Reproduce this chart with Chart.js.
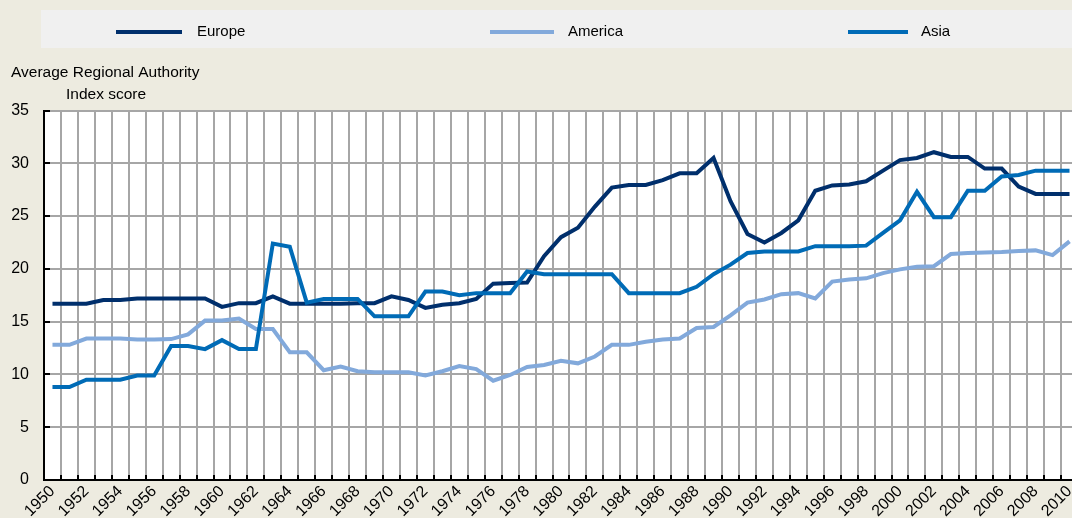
<!DOCTYPE html>
<html lang="en">
<head>
  <meta charset="UTF-8" />
  <title>Regional Authority Index</title>
  <script src="https://cdn.jsdelivr.net/npm/chart.js"></script>
  <style>
    html, body { margin: 0; padding: 0; overflow: hidden; background: #EDEBE0; }
    body { width: 1072px; height: 518px; position: relative; }
    #chart { position: absolute; left: 0; top: 0; }
  </style>
</head>
<body>
  <canvas id="chart" width="1092" height="560"></canvas>

  <script>
    const years = [
      1950, 1951, 1952, 1953, 1954, 1955, 1956, 1957, 1958, 1959,
      1960, 1961, 1962, 1963, 1964, 1965, 1966, 1967, 1968, 1969,
      1970, 1971, 1972, 1973, 1974, 1975, 1976, 1977, 1978, 1979,
      1980, 1981, 1982, 1983, 1984, 1985, 1986, 1987, 1988, 1989,
      1990, 1991, 1992, 1993, 1994, 1995, 1996, 1997, 1998, 1999,
      2000, 2001, 2002, 2003, 2004, 2005, 2006, 2007, 2008, 2009, 2010
    ];

    const europe = [
      16.7, 16.7, 16.7, 17.05, 17.05, 17.2, 17.2, 17.2, 17.2, 17.2,
      16.4, 16.75, 16.75, 17.4, 16.7, 16.7, 16.7, 16.7, 16.75, 16.75,
      17.4, 17.05, 16.3, 16.6, 16.75, 17.15, 18.6, 18.65, 18.7, 21.2,
      23.0, 23.9, 25.9, 27.7, 27.95, 27.95, 28.4, 29.05, 29.05, 30.5,
      26.4, 23.3, 22.5, 23.4, 24.6, 27.4, 27.9, 28.0, 28.3, 29.3,
      30.3, 30.5, 31.05, 30.6, 30.6, 29.5, 29.5, 27.8, 27.1, 27.1, 27.1
    ];

    const america = [
      12.8, 12.8, 13.4, 13.4, 13.4, 13.3, 13.3, 13.35, 13.8, 15.1,
      15.1, 15.3, 14.3, 14.3, 12.1, 12.1, 10.4, 10.75, 10.3, 10.2,
      10.2, 10.2, 9.9, 10.3, 10.8, 10.5, 9.4, 9.95, 10.7, 10.9,
      11.3, 11.05, 11.7, 12.8, 12.8, 13.1, 13.3, 13.4, 14.4, 14.5,
      15.6, 16.8, 17.1, 17.6, 17.7, 17.2, 18.8, 19.0, 19.1, 19.6,
      19.95, 20.2, 20.25, 21.4, 21.5, 21.55, 21.6, 21.7, 21.75, 21.3, 22.6
    ];

    const asia = [
      8.8, 8.8, 9.5, 9.5, 9.5, 9.9, 9.9, 12.7, 12.7, 12.4,
      13.25, 12.4, 12.4, 22.4, 22.1, 16.8, 17.15, 17.15, 17.15, 15.5,
      15.5, 15.5, 17.85, 17.85, 17.5, 17.7, 17.7, 17.7, 19.75, 19.5,
      19.5, 19.5, 19.5, 19.5, 17.7, 17.7, 17.7, 17.7, 18.3, 19.5,
      20.4, 21.5, 21.65, 21.65, 21.65, 22.15, 22.15, 22.15, 22.2, 23.4,
      24.6, 27.3, 24.9, 24.9, 27.4, 27.4, 28.75, 28.9, 29.3, 29.3, 29.3
    ];

    const yTicks = [0, 5, 10, 15, 20, 25, 30, 35];
    const axisTitle = ['Average Regional Authority', 'Index score'];

    const FONT = '"Liberation Sans", Arial, sans-serif';
    const BG = '#EDEBE0';
    const GRID = '#A6A6A6';

    // legend placement inside the grey strip: [line start, line end, text x]
    const legendSlots = [[116, 182, 197], [490, 554, 568], [848, 908, 921]];

    const frame = {
      id: 'frame',
      beforeDraw(chart) {
        const { ctx, chartArea: a } = chart;
        ctx.save();
        ctx.fillStyle = BG;
        ctx.fillRect(0, 0, chart.width, chart.height);
        ctx.fillStyle = '#FFFFFF';
        ctx.fillRect(a.left, a.top, a.right - a.left, a.bottom - a.top);

        // legend strip
        ctx.fillStyle = '#F0F0F0';
        ctx.fillRect(41, 10, chart.width - 41, 38);
        ctx.font = '15px ' + FONT;
        ctx.textBaseline = 'middle';
        chart.data.datasets.forEach((ds, i) => {
          const [x0, x1, tx] = legendSlots[i];
          ctx.fillStyle = ds.borderColor;
          ctx.fillRect(x0, 30, x1 - x0, 4);
          ctx.fillStyle = '#000';
          ctx.fillText(ds.label, tx, 32);
        });

        // axis title above the y axis
        ctx.font = '15.5px ' + FONT;
        ctx.fillStyle = '#000';
        ctx.textBaseline = 'alphabetic';
        ctx.fillText(axisTitle[0], 11, 77);
        ctx.fillText(axisTitle[1], 66, 99);
        ctx.restore();
      },
      beforeDatasetsDraw(chart) {
        const { ctx, chartArea: a, scales } = chart;
        const cell = (a.right - a.left) / years.length;
        ctx.save();
        ctx.strokeStyle = '#000';
        ctx.lineWidth = 2;
        ctx.beginPath();
        for (let i = 1; i <= years.length; i++) {
          const x = Math.round(a.left + i * cell);
          ctx.moveTo(x, a.bottom - 5);
          ctx.lineTo(x, a.bottom);
        }
        yTicks.forEach(v => {
          const y = Math.round(scales.y.getPixelForValue(v));
          ctx.moveTo(a.left, y);
          ctx.lineTo(a.left + 6, y);
        });
        ctx.stroke();
        ctx.restore();
      }
    };

    new Chart(document.getElementById('chart'), {
      type: 'line',
      data: {
        labels: years,
        datasets: [
          { label: 'Europe', data: europe, borderColor: '#002F6C', order: 2 },
          { label: 'America', data: america, borderColor: '#82A9DB', order: 3 },
          { label: 'Asia', data: asia, borderColor: '#006BB6', order: 1 }
        ]
      },
      options: {
        responsive: false,
        devicePixelRatio: 1,
        animation: false,
        layout: { padding: { top: 110.5, right: 14, bottom: 0, left: 0 } },
        elements: {
          line: { borderWidth: 4, tension: 0, borderCapStyle: 'butt', borderJoinStyle: 'miter' },
          point: { radius: 0, hoverRadius: 0 }
        },
        plugins: { legend: { display: false }, tooltip: { enabled: false } },
        scales: {
          x: {
            type: 'category',
            offset: true,
            grid: { offset: true, color: GRID, lineWidth: 2, drawTicks: false },
            border: { color: '#000', width: 2 },
            ticks: {
              autoSkip: false,
              minRotation: 45,
              maxRotation: 45,
              padding: 2,
              color: '#000',
              font: { family: FONT, size: 16 },
              callback(value, index) {
                const y = years[index];
                return y % 2 === 0 ? String(y) : '';
              }
            },
            afterFit(scale) { scale.height = 80; }
          },
          y: {
            min: 0,
            max: 35,
            grid: { color: GRID, lineWidth: 2, drawTicks: false },
            border: { color: '#000', width: 2 },
            ticks: {
              stepSize: 5,
              padding: 15,
              color: '#000',
              font: { family: FONT, size: 16 }
            },
            afterFit(scale) { scale.width = 44; }
          }
        }
      },
      plugins: [frame]
    });
  </script>
</body>
</html>
